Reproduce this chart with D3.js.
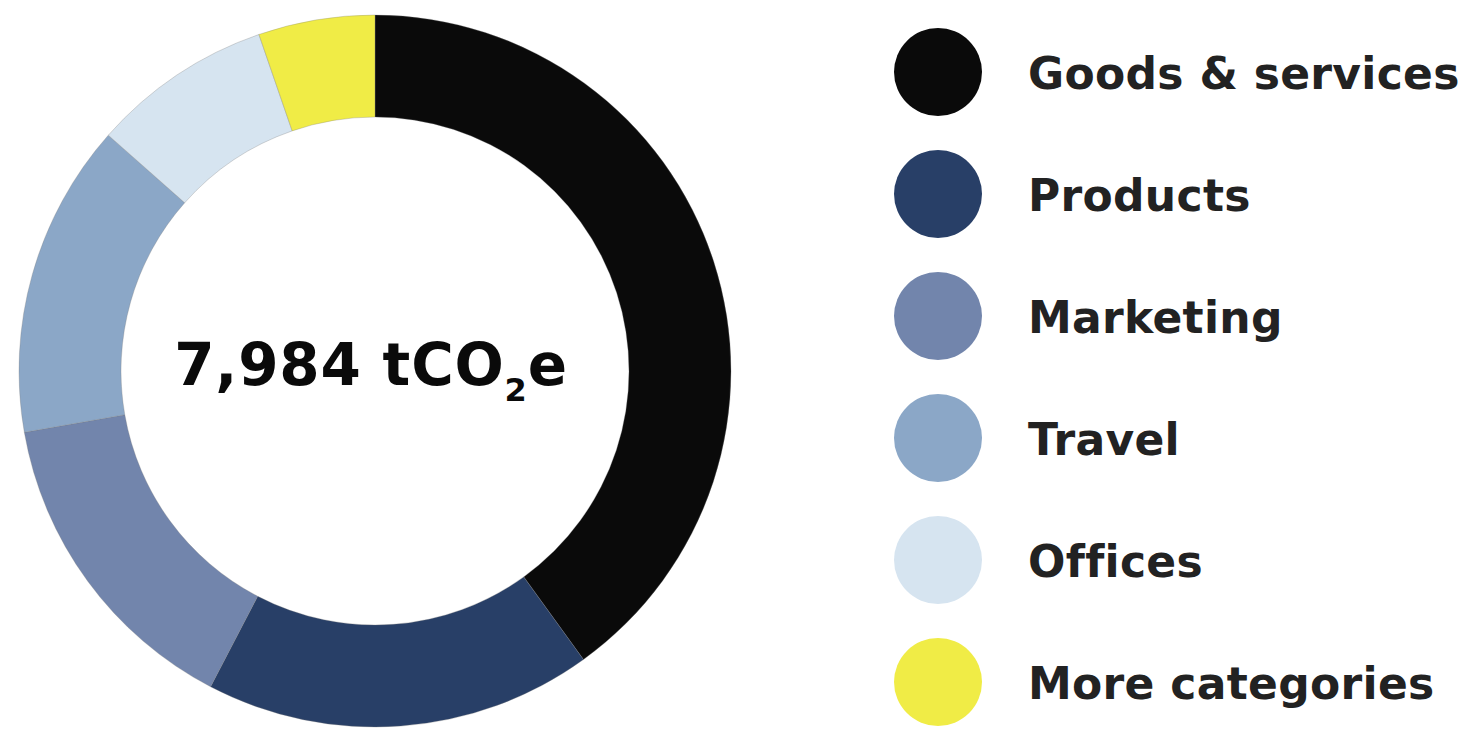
<!DOCTYPE html>
<html>
<head>
<meta charset="utf-8">
<script src="https://cdn.jsdelivr.net/npm/d3@7"></script>
<style>
  html, body { margin: 0; padding: 0; background: #fff; }
  svg { display: block; }
</style>
</head>
<body>
<svg id="chart" width="1465" height="730"></svg>
<script>
// emissions by category (tCO2e), read from the donut
const categories = ["Goods & services", "Products", "Marketing", "Travel", "Offices", "More categories"];
const values = [3197, 1405, 1166, 1140, 654, 422];
const colors = ["#0a0a0a", "#283f67", "#7285ac", "#8ba7c7", "#d6e4f0", "#f0ec46"];
const totalLabel = "7,984";

const fontFamily = "'DejaVu Sans', sans-serif";

const svg = d3.select("#chart");

const cx = 375, cy = 371;
const outerR = 356, innerR = 254;

const pie = d3.pie().sort(null).value(d => d.value);
const arc = d3.arc().innerRadius(innerR).outerRadius(outerR);

const data = categories.map((c, i) => ({ name: c, value: values[i], color: colors[i] }));

const donut = svg.append("g").attr("transform", `translate(${cx},${cy})`);

donut.selectAll("path")
  .data(pie(data))
  .enter()
  .append("path")
  .attr("d", arc)
  .attr("fill", d => d.data.color)
  .attr("stroke", "rgba(120,120,120,0.5)")
  .attr("stroke-width", 0.6);

// centre label
const centre = donut.append("text")
  .attr("text-anchor", "middle")
  .attr("x", -4)
  .attr("y", 14)
  .attr("font-family", fontFamily)
  .attr("font-weight", "bold")
  .attr("font-size", 58)
  .attr("letter-spacing", 0.8)
  .attr("fill", "#0a0a0a");
centre.append("tspan").text(totalLabel + " tCO");
centre.append("tspan").attr("font-size", 32).attr("dy", 16).text("2");
centre.append("tspan").attr("dy", -16).text("e");

// legend
const legendY = d3.scalePoint().domain(categories).range([72, 682]);

const legend = svg.append("g");
const item = legend.selectAll("g")
  .data(data)
  .enter()
  .append("g")
  .attr("transform", d => `translate(938,${legendY(d.name)})`);

item.append("circle")
  .attr("r", 44)
  .attr("fill", d => d.color);

item.append("text")
  .attr("x", 90)
  .attr("y", 17)
  .attr("font-family", fontFamily)
  .attr("font-weight", "bold")
  .attr("font-size", 44)
  .attr("letter-spacing", 0.3)
  .attr("fill", "#222")
  .text(d => d.name);
</script>
</body>
</html>
